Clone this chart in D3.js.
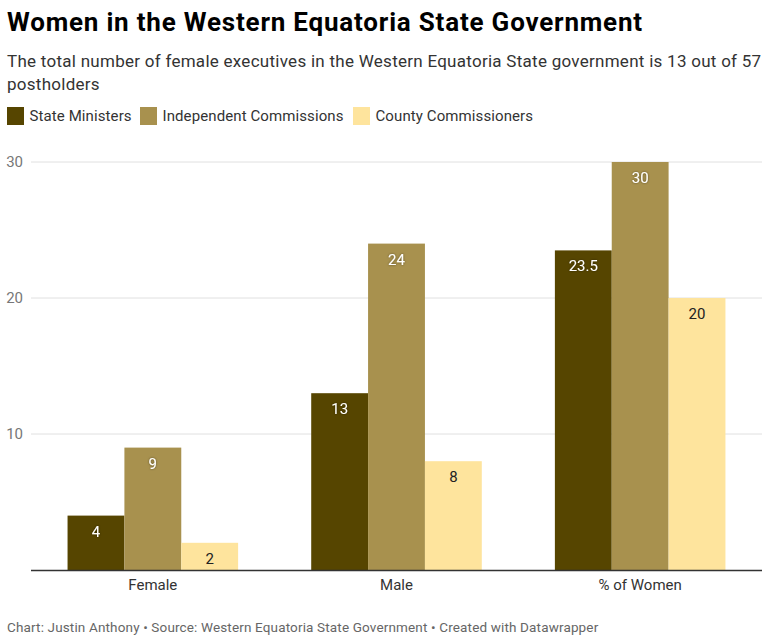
<!DOCTYPE html>
<html><head><meta charset="utf-8">
<script src="https://cdn.jsdelivr.net/npm/d3@7"></script>
<style>
body{margin:0;background:#fff;font-family:Roboto,"Noto Sans",sans-serif;}
</style></head>
<body><svg id="c" width="768" height="642"></svg>
<script>
const categories = ["Female", "Male", "% of Women"];
const seriesNames = ["State Ministers", "Independent Commissions", "County Commissioners"];
const stateMinisters = [4, 13, 23.5];
const independentCommissions = [9, 24, 30];
const countyCommissioners = [2, 8, 20];
const yTicks = [10, 20, 30];
const colors = ["#564500", "#a8914e", "#fee49d"];
const labelColors = ["#ffffff", "#ffffff", "#222222"];

const series = [stateMinisters, independentCommissions, countyCommissioners];
const svg = d3.select("#c");
svg.append("rect").attr("width",768).attr("height",642).attr("fill","#fff");

svg.append("text").attr("x",7).attr("y",31).attr("font-size",26).attr("font-weight",700)
  .attr("letter-spacing",0.8).attr("fill","#000").text("Women in the Western Equatoria State Government");
const sub = svg.append("text").attr("font-size",17).attr("letter-spacing",0.27).attr("fill","#333");
sub.append("tspan").attr("x",7).attr("y",67).text("The total number of female executives in the Western Equatoria State government is 13 out of 57");
sub.append("tspan").attr("x",7).attr("y",90).text("postholders");

// legend
const legX = [7, 140, 353];
seriesNames.forEach((n,i)=>{
  const g = svg.append("g").attr("transform",`translate(${legX[i]},107)`);
  g.append("rect").attr("width",17).attr("height",18).attr("fill",colors[i]);
  g.append("text").attr("x",22.5).attr("y",14).attr("font-size",15).attr("letter-spacing",0.1).attr("fill","#333").text(n);
});

const x0 = d3.scaleBand().domain(categories).range([31,762]).paddingInner(0.3).paddingOuter(0.15);
const x1 = d3.scaleBand().domain(seriesNames).range([0,x0.bandwidth()]);
const y = d3.scaleLinear().domain([0,30]).range([570,162]);

// gridlines
const grid = svg.append("g");
yTicks.forEach(t=>{
  grid.append("line").attr("x1",31).attr("x2",762).attr("y1",y(t)).attr("y2",y(t))
    .attr("stroke","#e0e0e0").attr("stroke-width",1);
  grid.append("text").attr("x",23).attr("y",y(t)+5).attr("text-anchor","end")
    .attr("font-size",15).attr("fill","#777").text(t);
});

const defs = svg.append("defs");
const f = defs.append("filter").attr("id","sh").attr("x","-50%").attr("y","-50%").attr("width","200%").attr("height","200%");
f.append("feDropShadow").attr("dx",0).attr("dy",0).attr("stdDeviation",1.2).attr("flood-color","#000").attr("flood-opacity",0.5);

categories.forEach((c,ci)=>{
  series.forEach((s,si)=>{
    const v = s[ci];
    const bx = x0(c)+x1(seriesNames[si]);
    svg.append("rect").attr("x",bx).attr("y",y(v)).attr("width",x1.bandwidth()).attr("height",y(0)-y(v))
      .attr("fill",colors[si]);
    const t = svg.append("text").attr("x",bx+x1.bandwidth()/2).attr("y",y(v)+21)
      .attr("text-anchor","middle").attr("font-size",15).attr("fill",labelColors[si]).text(v);
    if (si<2) t.attr("filter","url(#sh)");
  });
});

svg.append("line").attr("x1",31).attr("x2",762).attr("y1",570.5).attr("y2",570.5).attr("stroke","#333").attr("stroke-width",1.5);

categories.forEach(c=>{
  svg.append("text").attr("x",x0(c)+x0.bandwidth()/2).attr("y",590).attr("text-anchor","middle")
    .attr("font-size",15).attr("fill","#333").text(c);
});

svg.append("text").attr("x",7).attr("y",632).attr("font-size",13.5).attr("letter-spacing",0.15).attr("fill","#666")
  .text("Chart: Justin Anthony • Source: Western Equatoria State Government • Created with Datawrapper");
</script></body></html>
